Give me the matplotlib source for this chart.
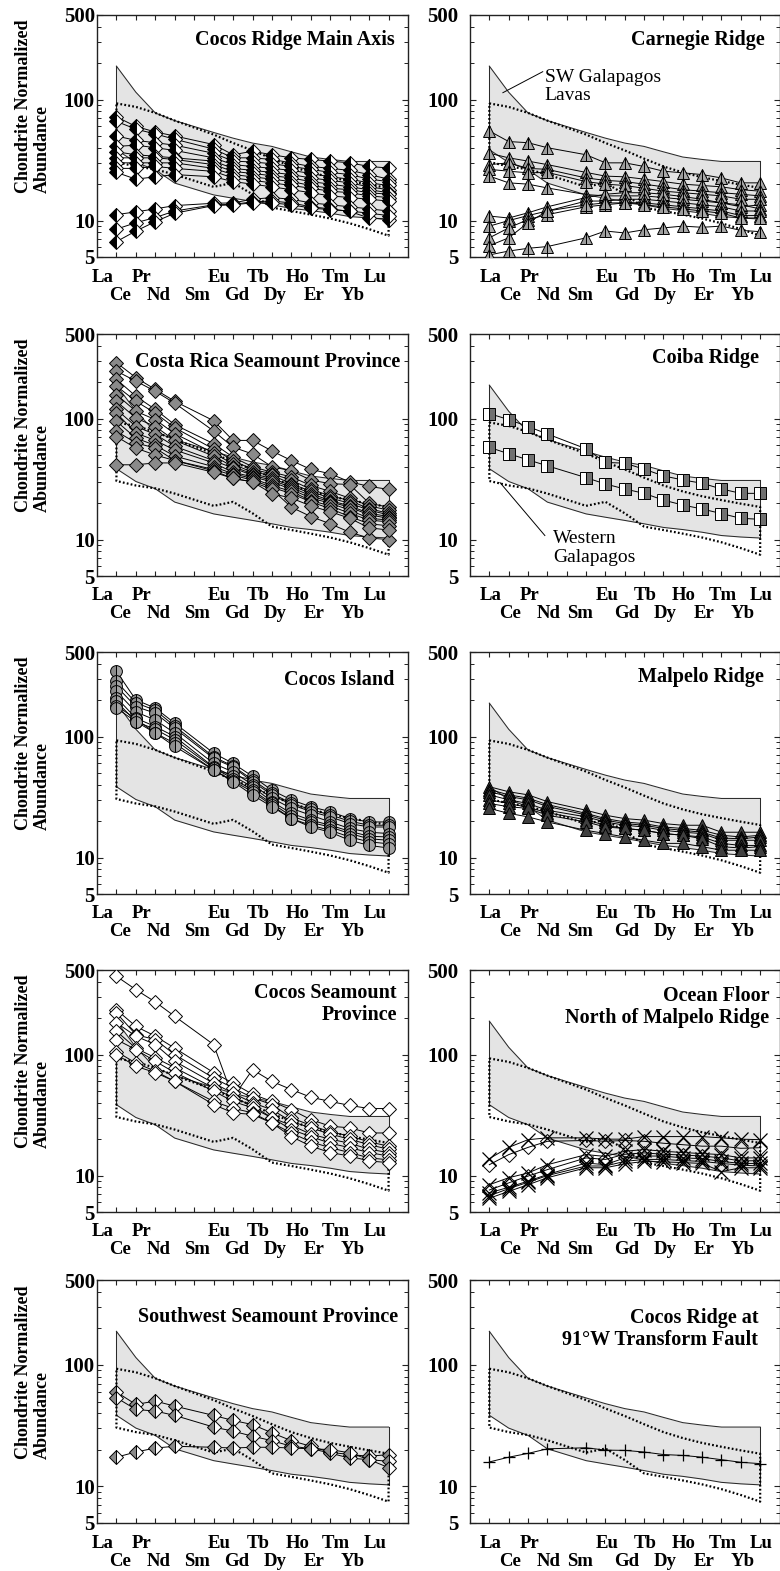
import matplotlib
matplotlib.use("Agg")
import matplotlib.pyplot as plt
from matplotlib.ticker import FixedLocator, FixedFormatter, NullFormatter

plt.rcParams['font.family'] = ['Liberation Serif', 'DejaVu Serif']

# ---------------- data ----------------
REE_FULL = ['La', 'Ce', 'Pr', 'Nd', 'Pm', 'Sm', 'Eu', 'Gd', 'Tb', 'Dy', 'Ho', 'Er', 'Tm', 'Yb', 'Lu']
ELEMENTS = ['La', 'Ce', 'Pr', 'Nd', 'Sm', 'Eu', 'Gd', 'Tb', 'Dy', 'Ho', 'Er', 'Tm', 'Yb', 'Lu']
TOP_ROW_LABELS = ['La', 'Pr', 'Eu', 'Tb', 'Ho', 'Tm', 'Lu']
BOTTOM_ROW_LABELS = ['Ce', 'Nd', 'Sm', 'Gd', 'Dy', 'Er', 'Yb']
Y_TICKS = [5, 10, 100, 500]
Y_TICK_LABELS = ['5', '10', '100', '500']
Y_MINOR = [6, 7, 8, 9, 20, 30, 40, 50, 60, 70, 80, 90, 200, 300, 400]

# Galapagos reference fields
ENVELOPE_UPPER = [189, 115, 77.5, 67, 53.5, 48, 43.7, 41, 37, 33.5, 32, 30.8, 30.8, 30.8]
ENVELOPE_LOWER = [38.5, 30.2, 26.3, 20.4, 16.3, 15.3, 14.4, 13.5, 12.6, 12.1, 11.5, 10.8, 10.5, 10.3]
DOTTED_UPPER = [93, 87, 77.6, 67, 51.4, 43.8, 38, 32.5, 28, 25, 22.8, 21.2, 19.8, 18.6]
DOTTED_LOWER = [30.5, 28, 26.5, 24, 19, 20.5, 16.5, 12.8, 12, 11.2, 10.4, 9.5, 8.5, 7.5]

COCOS_RIDGE_MAIN_AXIS = [
    [72, 60, 54, 50, 42.5, 35, 37.4, 35, 33, 32, 31, 30, 28, 27.2],
    [66, 57, 52, 47, 39, 33, 33, 32, 30, 28, 27, 26, 24, 22],
    [50, 46, 44, 42, 36, 31, 30.5, 29.5, 28, 26.5, 25, 24, 22, 21],
    [41, 42, 40, 38, 33, 29, 28, 27, 26, 24.5, 23, 22, 20.5, 19.5],
    [37, 35, 34, 33, 31, 27, 26, 25, 24, 22.5, 21.5, 20.5, 19, 18],
    [33, 33, 33, 32, 29, 25.5, 24.5, 23.5, 22.5, 21, 20, 19, 18, 17],
    [30, 30, 30, 30, 27, 24, 23, 22, 21, 19.5, 18.5, 18, 17, 16.5],
    [27, 27, 28, 27, 25.5, 22.5, 21.5, 20.5, 19.5, 18.5, 17.5, 17, 16, 15.5],
    [25, 22, 23, 24, 23, 21, 20, 19, 18, 17, 16, 15.5, 15, 14.5],
    [11.2, 11.8, 12.5, 13.3, 13.9, 14, 15, 15.5, 15, 14, 13.5, 13, 12.5, 12],
    [8.5, 9.6, 10.6, 12, 13.5, 13.6, 14.3, 14.5, 14, 13, 12.5, 11.9, 10.5, 10.2],
    [6.7, 8.2, 9.8, 11.5, 13.3, 13.5, 14, 14, 13.5, 12.7, 12.3, 12, 11.5, 11],
]
CARNEGIE_RIDGE = [
    [55, 45, 44, 40, 35, 30, 30, 28, 25.6, 24.8, 24, 22.5, 20.5, 20.5],
    [36, 33, 31, 29, 25, 23.3, 23, 22, 21, 20, 19.5, 19, 18, 17.5],
    [29, 30, 27, 26.5, 22.5, 21.5, 21, 20, 19, 18, 17.5, 17, 16.5, 16],
    [26.5, 25.6, 24.8, 25, 21, 20, 19.5, 18.5, 17.5, 17, 16.5, 16, 15, 15],
    [23.3, 20.5, 20, 18.6, 16.4, 16, 16, 16, 15.5, 15, 14.5, 14, 13, 13.5],
    [10.9, 10.5, 11.6, 13, 15.5, 16.5, 17, 17, 16.5, 15.8, 15, 14, 13.5, 12.5],
    [9, 10, 11, 12, 14.5, 14.5, 15, 15, 14.5, 14, 13.5, 13, 12, 12],
    [7.2, 8.7, 10.2, 11.2, 13, 13.5, 14, 14, 13.5, 13, 12.5, 12, 11, 11],
    [6.2, 7.2, 9.6, 12, 13.5, 14, 14, 13.5, 13, 12.5, 12, 11.5, 10.5, 10.5],
    [5.2, 5.6, 5.9, 6.1, 7.2, 8.2, 7.9, 8.4, 8.7, 9, 8.8, 9, 8.3, 8.1],
]
COSTA_RICA_SEAMOUNTS = [
    [290, 218, 174, 139, 96, 66, 66, 54, 45, 38, 35, 30, 27.5, 26],
    [247, 204, 168, 134, 79, 58, 51, 40, 37, 31, 29, 28.5, 20, 18.5],
    [211, 153, 119, 89, 62, 48, 40, 36, 33, 28, 25, 22, 19, 17.5],
    [186, 139, 111, 84, 56, 45, 38, 35, 31, 26, 23, 21, 18, 16.5],
    [158, 115, 98, 75, 52, 42, 36, 34, 29, 25, 22, 20, 17.5, 16],
    [139, 101, 86, 66, 49, 40, 35, 32, 28, 24, 21, 19, 16.5, 15.5],
    [119, 86, 74, 59, 45, 39, 34, 31, 27, 23, 20.5, 18.5, 16, 15],
    [111, 76, 66, 55, 43, 36, 33, 30, 26, 22, 20, 17.5, 15, 14.5],
    [95, 69, 60, 49, 40, 35, 32, 28, 25, 21, 19, 16.5, 14.5, 14],
    [78.5, 63, 57, 45, 38, 34, 31, 27, 24, 20.5, 18, 15.5, 13.5, 13],
    [71, 57, 50, 45, 37, 32, 30, 26, 18.5, 15.5, 13.5, 11.5, 10.3, 10],
    [41.5, 41.5, 43, 43, 36, 32, 30, 24, 22, 19, 17, 15, 12.5, 12],
]
COIBA_RIDGE = [
    [110, 98, 86, 74.6, 56.3, 43.4, 42.8, 38.2, 33.6, 31.1, 29.2, 26.2, 24.1, 24.1],
    [57.8, 51.2, 45.6, 40.7, 32.5, 28.8, 26.2, 24.1, 21.2, 19.3, 17.9, 16.4, 15.0, 14.7],
]
COCOS_ISLAND = [
    [346, 201, 172, 129, 73, 60, 47, 36, 30, 26.3, 24, 21, 19.7, 19.7],
    [286, 190, 165, 122, 68, 57, 44, 34, 28, 25, 22.5, 20, 18.5, 18.5],
    [260, 177, 156, 117, 66, 56, 42.4, 33, 27.4, 24, 21.7, 19.1, 17.9, 17.9],
    [236, 160, 137, 107, 60, 51, 40, 31, 25.5, 22.4, 19.7, 17.4, 16.2, 15.8],
    [210, 142, 121, 100, 56, 47, 38.5, 29, 23.2, 20.4, 18.5, 16.5, 15, 14.8],
    [195, 133, 115, 94, 55, 45, 36, 28, 22, 19.5, 17.9, 15.8, 14.3, 13.9],
    [180, 140, 107, 88, 53, 43, 35, 27, 21, 18.5, 16.8, 14.8, 13.5, 13],
    [172, 133, 107, 83, 53, 42.4, 32.9, 26.3, 21, 17.9, 16.2, 13.9, 12.6, 12],
]
MALPELO_RIDGE = [
    [38.5, 35, 33, 29, 24.6, 22.4, 21, 20.4, 19.1, 18.5, 18.5, 16.2, 16.2, 16.2],
    [36.5, 33, 31, 27.4, 23.2, 21, 19.7, 19.1, 17.9, 17.4, 16.8, 15.3, 14.8, 15.3],
    [35, 32, 30, 26.5, 22.5, 20.4, 19.1, 18.5, 17.4, 16.8, 16.2, 14.5, 14.3, 14.8],
    [33, 30, 28, 24.6, 21.7, 19.7, 18.5, 17.9, 16.8, 16.2, 15.8, 13.9, 13.9, 13.9],
    [30, 28, 26, 23.5, 20.5, 18.5, 17.4, 16.8, 15.8, 15.3, 14.8, 13.1, 12.6, 12.6],
    [28, 26.3, 25.5, 22.4, 19.7, 17.9, 17.4, 16.8, 15.8, 15.3, 14.3, 12.3, 12.0, 12.3],
    [25.5, 23.2, 21.7, 19.7, 16.8, 15.8, 14.8, 13.9, 13.1, 13.1, 12.3, 11.5, 11.5, 11.5],
]
COCOS_SEAMOUNTS = [
    [444, 344, 272, 207, 121, 44, 75, 60, 51.4, 44.4, 41, 38, 35.8, 35.8],
    [235, 171, 142, 113, 71, 58, 47, 41, 35, 29, 25.6, 24.8, 22.5, 22.5],
    [221, 146, 133, 100, 64, 53, 44, 38.6, 30, 26, 23, 21.2, 19, 17.5],
    [183, 142, 121, 88, 58, 48, 40, 35, 28, 24.8, 22, 20, 18, 16.5],
    [156, 113, 94, 78, 53, 44, 38, 30, 26, 22, 20, 18.5, 16.5, 15.5],
    [133, 110, 88, 71, 50, 41, 36.3, 30, 24, 21, 18.5, 17, 15.5, 14.5],
    [106, 85, 73, 60, 41, 36, 33, 27.2, 22.5, 19, 17, 15.5, 14, 13.5],
    [100, 80, 71, 60, 38.6, 33, 32, 27.2, 21, 17.5, 15.5, 14.5, 13.2, 12.8],
]
OCEAN_FLOOR_CROSSES = [
    [13.8, 17.1, 19.8, 20.5, 20.5, 20, 20, 21, 21, 21, 21, 20.5, 20, 19.8],
    [8.4, 9.6, 10.5, 12.3, 14.9, 14.4, 15.9, 16.4, 15.9, 15.5, 15.2, 14.9, 14, 14],
    [7.2, 8, 9, 10.2, 12.7, 12.3, 14, 14.5, 14.5, 14, 13.8, 13.1, 12.6, 12.6],
    [6.8, 7.8, 8.8, 10, 12, 12, 13.1, 13.6, 13.6, 13.3, 13.1, 12.6, 12.2, 12],
    [6.5, 7.4, 8.4, 9.6, 11.6, 11.6, 12.5, 13.1, 13, 12.8, 12.6, 10.8, 11.6, 11.6],
]
OCEAN_FLOOR_DIAMONDS = [
    [12.3, 14.9, 17.1, 19.2, 19.5, 19.2, 19.5, 19.2, 18.5, 18, 17.5, 17.5, 16.8, 17],
    [7.6, 8.7, 9.9, 11.2, 14, 13.6, 15, 15.4, 15, 14.8, 14.5, 14, 13.2, 13.3],
]
SW_SEAMOUNTS = [
    [59.8, 47.3, 50.4, 45.8, 38.4, 34.9, 32.3, 27.6, 23.8, 21.4, 19.1, 18.3, 17.7, 18.3],
    [53.7, 43, 41.7, 38.4, 30.8, 28.5, 25.9, 23.8, 21.4, 20.5, 18.8, 17.1, 16.6, 16.1],
    [17.4, 19.2, 20.7, 21.4, 21, 20.7, 21, 21, 20.7, 20.4, 20.1, 18.9, 16.6, 14.3],
]
COCOS_RIDGE_91W = [
    [15.9, 17.4, 18.7, 20.4, 20.8, 19.9, 19.8, 19.2, 18.3, 18, 17.4, 16.6, 15.8, 15.4],
]

TITLES = [
    'Cocos Ridge Main Axis', 'Carnegie Ridge',
    'Costa Rica Seamount Province', 'Coiba Ridge',
    'Cocos Island', 'Malpelo Ridge',
    'Cocos Seamount\nProvince', 'Ocean Floor\nNorth of Malpelo Ridge',
    'Southwest Seamount Province', 'Cocos Ridge at\n91°W Transform Fault',
]
Y_LABEL = 'Chondrite Normalized\nAbundance'

# ---------------- layout ----------------
DPI = 100
W, H = 780, 1571
PT = 72.0 / DPI
fig = plt.figure(figsize=(W / DPI, H / DPI), dpi=DPI)
fig.patch.set_facecolor('white')

ROWS = [(15, 257), (334, 576), (652, 894), (970, 1212), (1280, 1523)]
COLS = [(97, 408), (470, 779.5)]
# title offsets (px from right spine, px from top spine to text centre)
TITLE_OFFS = [(13, 25), (15, 25), (8, 28), (20, 24), (14, 28), (16, 25),
              (11, 34), (10, 37), (10, 37), (21, 49)]

XPOS = [REE_FULL.index(e) for e in ELEMENTS]

FILL_GRAY = '#e4e4e4'


def draw_envelope(ax):
    ax.fill_between(XPOS, ENVELOPE_LOWER, ENVELOPE_UPPER, color=FILL_GRAY, lw=0, zorder=1)
    kw = dict(color='#2a2a2a', lw=0.75, zorder=2, solid_joinstyle='round')
    ax.plot(XPOS, ENVELOPE_UPPER, **kw)
    ax.plot(XPOS, ENVELOPE_LOWER, **kw)
    ax.plot([XPOS[0], XPOS[0]], [ENVELOPE_LOWER[0], ENVELOPE_UPPER[0]], **kw)
    ax.plot([XPOS[-1], XPOS[-1]], [ENVELOPE_LOWER[-1], ENVELOPE_UPPER[-1]], **kw)
    xs = XPOS + XPOS[::-1] + [XPOS[0]]
    ys = DOTTED_UPPER + DOTTED_LOWER[::-1] + [DOTTED_UPPER[0]]
    ax.plot(xs, ys, color='black', lw=1.6, linestyle=(0, (0.8, 1.0)), zorder=3,
            dash_capstyle='butt')


def draw_series(ax, data, **style):
    base = dict(color='black', lw=0.7, mec='black', mew=0.7, zorder=5)
    base.update(style)
    for s in data:
        ax.plot(XPOS, s, **base)


def setup_axes(ax, col):
    ax.set_yscale('log')
    ax.set_xlim(-1, 15)
    ax.set_ylim(5, 500)
    ax.yaxis.set_major_locator(FixedLocator(Y_TICKS))
    ax.yaxis.set_major_formatter(FixedFormatter(Y_TICK_LABELS))
    ax.yaxis.set_minor_locator(FixedLocator(Y_MINOR))
    ax.yaxis.set_minor_formatter(NullFormatter())
    ax.xaxis.set_major_locator(FixedLocator(list(range(len(REE_FULL)))))
    ax.xaxis.set_minor_locator(FixedLocator([]))
    ax.tick_params(axis='x', which='both', direction='in', top=True, bottom=True,
                   labelbottom=False, length=3.6, width=0.8, color='#222222')
    ax.tick_params(axis='y', which='major', direction='in', left=True, right=True,
                   length=4.5, width=0.8, color='#222222',
                   pad=1.5 if col == 0 else 8.5, labelsize=15)
    ax.tick_params(axis='y', which='minor', direction='in', left=True, right=True,
                   length=2.6, width=0.7, color='#222222')
    for lab in ax.get_yticklabels():
        lab.set_fontweight('bold')
    for sp in ax.spines.values():
        sp.set_linewidth(1.0)
        sp.set_color('#222222')
    # element labels (two staggered rows)
    top_shift = -0.7 if col == 0 else 0.07
    bot_shift = -0.83 if col == 0 else 0.08
    for lab in TOP_ROW_LABELS:
        ax.annotate(lab, xy=(REE_FULL.index(lab) + top_shift, 0),
                    xycoords=('data', 'axes fraction'), xytext=(0, -20 * PT),
                    textcoords='offset points', ha='center', va='center',
                    fontsize=13.5, fontweight='bold', annotation_clip=False)
    for lab in BOTTOM_ROW_LABELS:
        extra = -0.4 if (col == 1 and lab == 'Sm') else 0.0
        ax.annotate(lab, xy=(REE_FULL.index(lab) + bot_shift + extra, 0),
                    xycoords=('data', 'axes fraction'), xytext=(0, -38 * PT),
                    textcoords='offset points', ha='center', va='center',
                    fontsize=13.5, fontweight='bold', annotation_clip=False)
    if col == 0:
        ax.annotate(Y_LABEL, xy=(0, 0), xycoords='axes fraction',
                    xytext=(-64 * PT, 64 * PT), textcoords='offset points',
                    rotation=90, ha='center', va='bottom', multialignment='left',
                    fontsize=13, fontweight='bold', linespacing=1.2,
                    annotation_clip=False)


axes = []
for i in range(10):
    r, c = divmod(i, 2)
    x0, x1 = COLS[c]
    t, b = ROWS[r]
    ax = fig.add_axes([x0 / W, 1 - b / H, (x1 - x0) / W, (b - t) / H])
    setup_axes(ax, c)
    draw_envelope(ax)
    dx, dy = TITLE_OFFS[i]
    ax.annotate(TITLES[i], xy=(1, 1), xycoords='axes fraction',
                xytext=(-dx * PT, -dy * PT), textcoords='offset points',
                ha='right', va='center', multialignment='right',
                fontsize=14.5, fontweight='bold', linespacing=1.12, zorder=10)
    axes.append(ax)

# panel contents
draw_series(axes[0], COCOS_RIDGE_MAIN_AXIS, marker='D', ms=6.8, fillstyle='left',
            mfc='black', mfcalt='white')
draw_series(axes[1], CARNEGIE_RIDGE, marker='^', ms=9, fillstyle='left',
            mfc='#9c9c9c', mfcalt='#a8a8a8')
draw_series(axes[2], COSTA_RICA_SEAMOUNTS, marker='D', ms=6.8, mfc='#8a8a8a')
draw_series(axes[3], COIBA_RIDGE, marker='s', ms=8.5, fillstyle='right',
            mfc='#707070', mfcalt='white')
draw_series(axes[4], COCOS_ISLAND, marker='o', ms=8.5, fillstyle='left',
            mfc='#8c8c8c', mfcalt='#a4a4a4')
draw_series(axes[5], MALPELO_RIDGE, marker='^', ms=9, mfc='#404040')
draw_series(axes[6], COCOS_SEAMOUNTS, marker='D', ms=7.2, mfc='white')
draw_series(axes[7], OCEAN_FLOOR_CROSSES, marker='x', ms=9.5, mew=0.9)
draw_series(axes[7], OCEAN_FLOOR_DIAMONDS, marker='D', ms=7, mfc='none')
draw_series(axes[8], SW_SEAMOUNTS, marker='D', ms=6.8, fillstyle='left',
            mfc='#8a8a8a', mfcalt='white')
draw_series(axes[9], COCOS_RIDGE_91W, marker='+', ms=9, mew=0.9)

# annotations with leader lines
axes[1].text(2.87, 129, 'SW Galapagos\nLavas', fontsize=14, ha='left', va='center',
             multialignment='left', linespacing=1.1, zorder=10)
axes[1].plot([0.70, 2.76], [114, 170], color='black', lw=0.7, zorder=10)
axes[3].text(3.28, 8.5, 'Western\nGalapagos', fontsize=14, ha='left', va='center',
             multialignment='left', linespacing=1.1, zorder=10)
axes[3].plot([0.55, 2.87], [29.6, 10.8], color='black', lw=0.7, zorder=10)

fig.savefig('out.png', dpi=DPI, facecolor='white')
